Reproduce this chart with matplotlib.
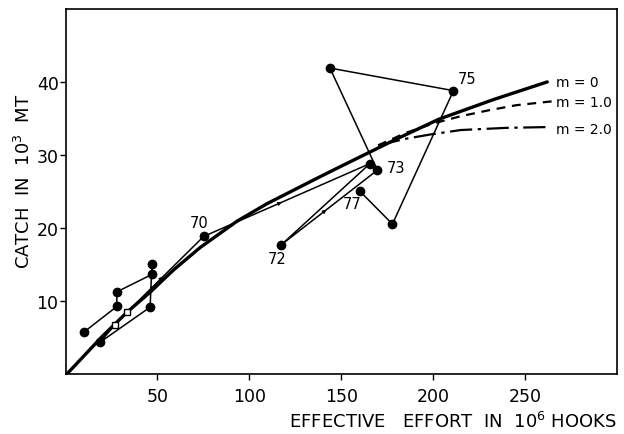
import matplotlib
matplotlib.use("Agg")
import matplotlib.pyplot as plt

# yearly catch vs effective effort, 1961-1977
years = [61, 62, 63, 64, 65, 66, 67, 68, 69, 70, 71, 72, 73, 74, 75, 76, 77]
effort = [10.1, 27.9, 27.9, 47.0, 47.0, 46.0, 18.8, 27.0, 33.4,
          75.1, 165.6, 117.3, 169.6, 143.8, 211.0, 177.8, 160.1]
catch = [5.7, 9.2, 11.2, 13.6, 15.0, 9.1, 4.3, 6.7, 8.4,
         18.8, 28.8, 17.65, 27.9, 41.9, 38.8, 20.5, 25.0]
open_marker_years = [68, 69]
labelled_years = {70: (-2.2, 1.9), 72: (-2.2, -1.9), 73: (10.0, 0.4),
                  75: (7.6, 1.6), 77: (-4.1, -1.7)}

# equilibrium yield curves
m0_x = [1, 20, 33.4, 46, 58.7, 73.3, 93.3, 109.6, 136.9, 149.6, 164.1,
        178.6, 203.2, 233, 262]
m0_y = [0, 5.1, 8.4, 11.15, 14.2, 17.3, 20.9, 23.3, 26.8, 28.4, 30.2,
        32.0, 34.9, 37.6, 40.0]
m1_x = [170, 185, 200, 215, 230, 245, 267]
m1_y = [31.3, 33.0, 34.3, 35.3, 36.1, 36.8, 37.4]
m2_x = [170, 185, 198.6, 215, 240, 261]
m2_y = [31.3, 32.2, 32.8, 33.4, 33.7, 33.8]
curve_labels = ['m = 0', 'm = 1.0', 'm = 2.0']
curve_label_y = [40.0, 37.3, 33.6]

# segments (index of start point) that carry a direction arrow
arrow_segments = [8, 9, 11]


def arrow_on(ax, i, t=0.45):
    x0, y0 = effort[i], catch[i]
    x1, y1 = effort[i + 1], catch[i + 1]
    xa, ya = x0 + t * (x1 - x0), y0 + t * (y1 - y0)
    xb, yb = x0 + (t + 0.02) * (x1 - x0), y0 + (t + 0.02) * (y1 - y0)
    ax.annotate('', xy=(xb, yb), xytext=(xa, ya),
                arrowprops=dict(arrowstyle='-|>', color='k', lw=0.6,
                                mutation_scale=6))


fig = plt.figure(figsize=(6.24, 4.35), dpi=100)
ax = fig.add_axes([0.105, 0.139, 0.884, 0.838])

ax.plot(m0_x, m0_y, color='k', lw=2.4, solid_capstyle='round')
ax.plot(m1_x, m1_y, color='k', lw=1.6, dashes=(4, 3))
ax.plot(m2_x, m2_y, color='k', lw=1.6, dashes=(10, 2.5, 1.5, 2.5))
for lab, yy in zip(curve_labels, curve_label_y):
    ax.text(267, yy, lab, fontsize=10, va='center', ha='left')

ax.plot(effort, catch, color='k', lw=1.1, zorder=3)
for yr, x, y in zip(years, effort, catch):
    if yr in open_marker_years:
        ax.plot(x, y, 's', ms=5, mfc='white', mec='k', mew=1.0, zorder=4)
    else:
        ax.plot(x, y, 'o', ms=6, color='k', zorder=4)
for yr, (dx, dy) in labelled_years.items():
    i = years.index(yr)
    ax.text(effort[i] + dx, catch[i] + dy, str(yr), fontsize=10.5,
            ha='center', va='center')
for i in arrow_segments:
    arrow_on(ax, i)

ax.set_xlim(0, 300)
ax.set_ylim(0, 50)
ax.set_xticks([50, 100, 150, 200, 250])
ax.set_yticks([10, 20, 30, 40])
ax.tick_params(direction='out', length=4, width=1, labelsize=12.5)
ax.tick_params(axis='x', pad=6)
ax.tick_params(axis='y', pad=1)
for sp in ax.spines.values():
    sp.set_linewidth(1.2)

ax.set_xlabel('EFFECTIVE   EFFORT  IN  10$^6$ HOOKS', fontsize=13,
              loc='right', labelpad=4)
ax.set_ylabel('CATCH  IN  10$^3$  MT', fontsize=13, labelpad=4)
ax.yaxis.set_label_coords(-0.057, 0.53)

fig.savefig('out.png', dpi=100)
